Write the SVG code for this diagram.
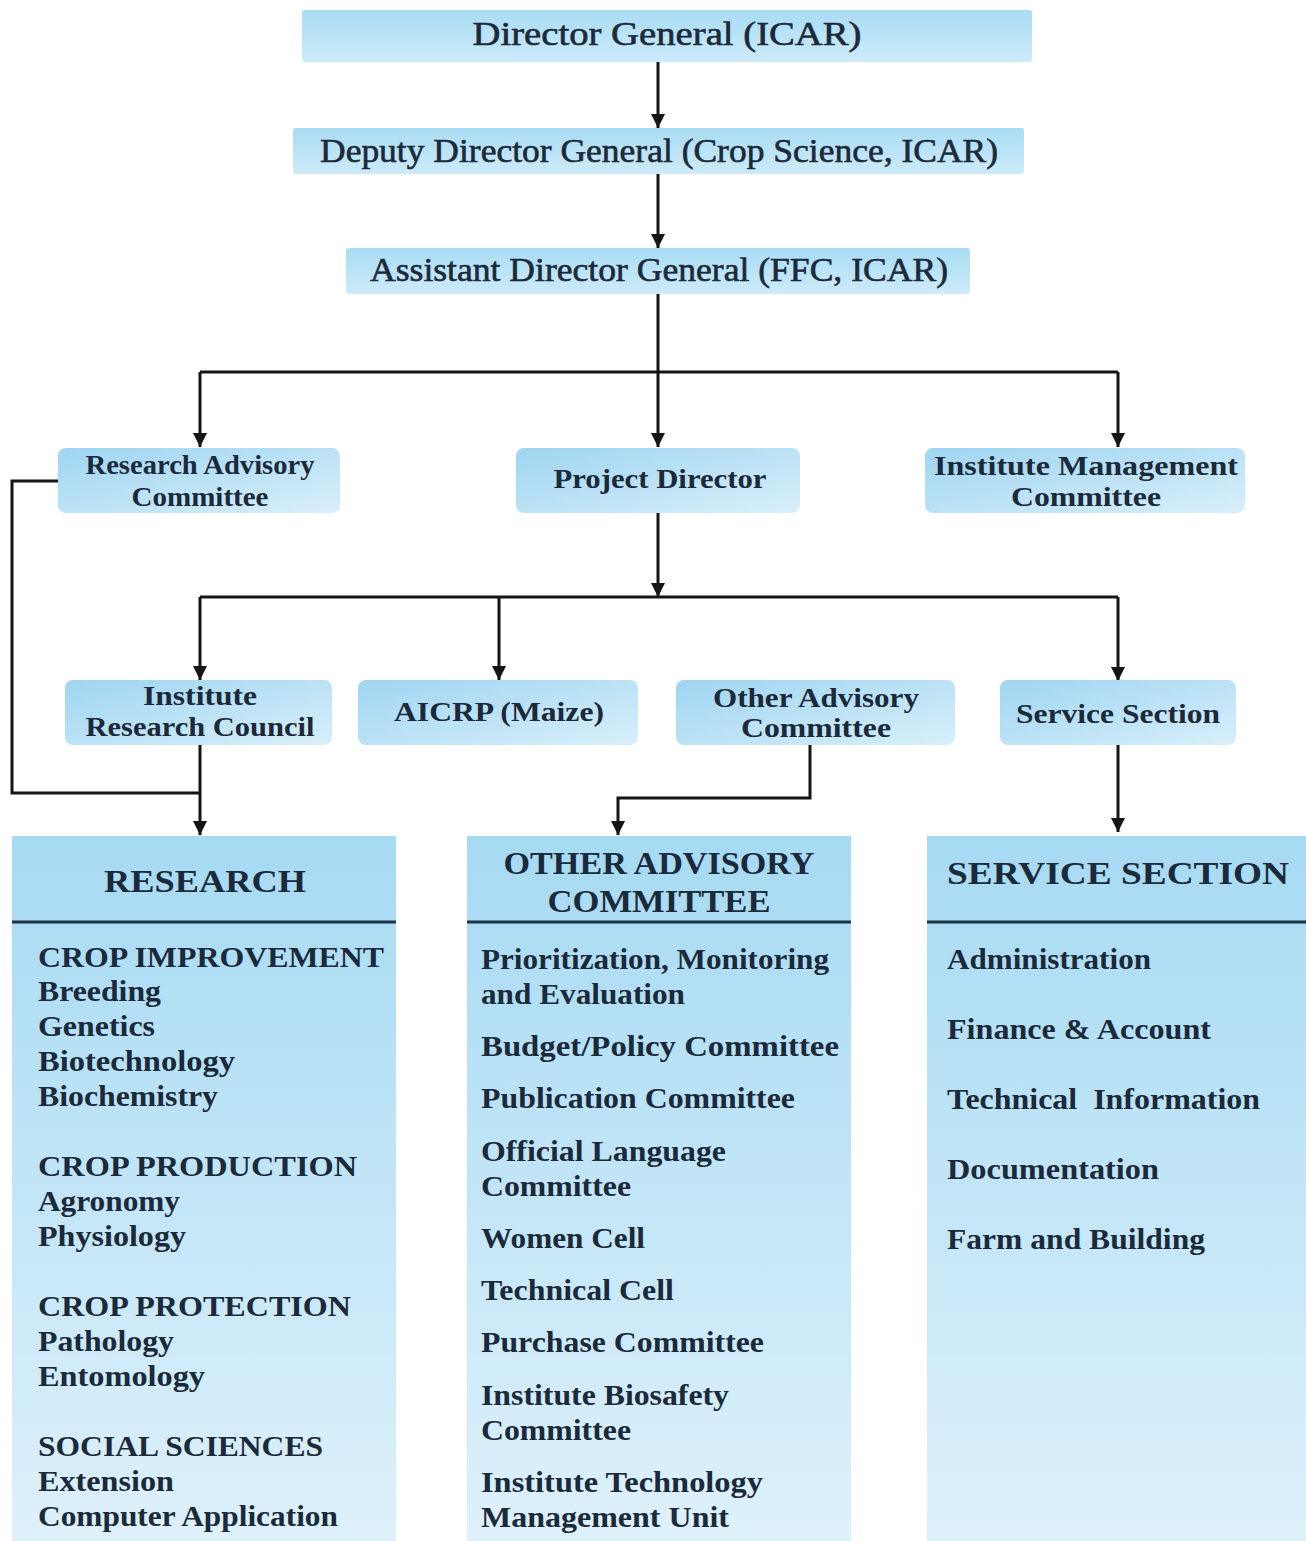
<svg xmlns="http://www.w3.org/2000/svg" width="1306" height="1541" viewBox="0 0 1306 1541">
<defs>
<linearGradient id="gBanner" x1="0" y1="0" x2="0" y2="1">
<stop offset="0" stop-color="#a9dcf4"/>
<stop offset="1" stop-color="#cdebf9"/>
</linearGradient>
<linearGradient id="gBox" x1="0" y1="0" x2="1" y2="1">
<stop offset="0" stop-color="#9fd5f1"/>
<stop offset="1" stop-color="#d8effa"/>
</linearGradient>
<linearGradient id="gPanel" x1="0" y1="0" x2="0" y2="1">
<stop offset="0" stop-color="#a6daf3"/>
<stop offset="1" stop-color="#def1fb"/>
</linearGradient>
<marker id="arr" markerUnits="userSpaceOnUse" markerWidth="14" markerHeight="16" refX="14" refY="7" orient="auto" viewBox="0 0 14 14">
<path d="M0,0 L14,7 L0,14 z" fill="#151515"/>
</marker>
</defs>
<style>
text{font-family:"Liberation Serif","Times New Roman",serif;fill:#1b2a3a;}
.hd{font-size:33px;font-weight:normal;text-anchor:middle;stroke:#1b2a3a;stroke-width:0.6;}
.nd{font-size:27px;font-weight:bold;text-anchor:middle;}
.ph{font-size:32px;font-weight:bold;text-anchor:middle;}
.it{font-size:29px;font-weight:bold;}
.banner{fill:url(#gBanner);}
.box{fill:url(#gBox);}
.panel{fill:url(#gPanel);}
.div{stroke:#1d3344;stroke-width:3;}
.con{fill:none;stroke:#151515;stroke-width:3;}
</style>
<rect width="1306" height="1541" fill="#ffffff"/>

<g id="connectors">
<path class="con" d="M658,62 V128" marker-end="url(#arr)"/>
<path class="con" d="M658,174 V248" marker-end="url(#arr)"/>
<path class="con" d="M658,294 V447" marker-end="url(#arr)"/>
<path class="con" d="M200,372 H1118"/>
<path class="con" d="M200,372 V447" marker-end="url(#arr)"/>
<path class="con" d="M1118,372 V447" marker-end="url(#arr)"/>
<path class="con" d="M58,481 H12 V793 H200"/>
<path class="con" d="M658,513 V597" marker-end="url(#arr)"/>
<path class="con" d="M200,597 H1118"/>
<path class="con" d="M200,597 V680" marker-end="url(#arr)"/>
<path class="con" d="M499,597 V680" marker-end="url(#arr)"/>
<path class="con" d="M1118,597 V681" marker-end="url(#arr)"/>
<path class="con" d="M200,745 V835" marker-end="url(#arr)"/>
<path class="con" d="M810,745 V798 H618 V835" marker-end="url(#arr)"/>
<path class="con" d="M1118,745 V832" marker-end="url(#arr)"/>
</g>

<g id="dg">
<rect class="banner" x="302" y="10" width="730" height="52" rx="3"/>
<text class="hd" x="667" y="45" textLength="389" lengthAdjust="spacingAndGlyphs">Director General (ICAR)</text>
</g>
<g id="ddg">
<rect class="banner" x="293" y="128" width="731" height="46" rx="3"/>
<text class="hd" x="659" y="162" textLength="678" lengthAdjust="spacingAndGlyphs">Deputy Director General (Crop Science, ICAR)</text>
</g>
<g id="adg">
<rect class="banner" x="346" y="248" width="624" height="46" rx="3"/>
<text class="hd" x="659" y="281" textLength="578" lengthAdjust="spacingAndGlyphs">Assistant Director General (FFC, ICAR)</text>
</g>

<g id="rac">
<rect class="box" x="58" y="448" width="282" height="65" rx="8"/>
<text class="nd" x="200" y="474" textLength="229" lengthAdjust="spacingAndGlyphs">Research Advisory</text>
<text class="nd" x="200" y="506" textLength="137" lengthAdjust="spacingAndGlyphs">Committee</text>
</g>
<g id="pd">
<rect class="box" x="516" y="448" width="284" height="65" rx="8"/>
<text class="nd" x="660" y="488" textLength="213" lengthAdjust="spacingAndGlyphs">Project Director</text>
</g>
<g id="imc">
<rect class="box" x="925" y="448" width="320" height="65" rx="8"/>
<text class="nd" x="1086" y="475" textLength="304" lengthAdjust="spacingAndGlyphs">Institute Management</text>
<text class="nd" x="1086" y="506" textLength="150" lengthAdjust="spacingAndGlyphs">Committee</text>
</g>

<g id="irc">
<rect class="box" x="65" y="680" width="267" height="65" rx="8"/>
<text class="nd" x="200" y="705" textLength="114" lengthAdjust="spacingAndGlyphs">Institute</text>
<text class="nd" x="200" y="736" textLength="229" lengthAdjust="spacingAndGlyphs">Research Council</text>
</g>
<g id="aicrp">
<rect class="box" x="358" y="680" width="280" height="65" rx="8"/>
<text class="nd" x="499" y="721" textLength="210" lengthAdjust="spacingAndGlyphs">AICRP (Maize)</text>
</g>
<g id="oac">
<rect class="box" x="676" y="680" width="279" height="65" rx="8"/>
<text class="nd" x="816" y="707" textLength="206" lengthAdjust="spacingAndGlyphs">Other Advisory</text>
<text class="nd" x="816" y="737" textLength="150" lengthAdjust="spacingAndGlyphs">Committee</text>
</g>
<g id="ss">
<rect class="box" x="1000" y="680" width="236" height="65" rx="8"/>
<text class="nd" x="1118" y="723" textLength="204" lengthAdjust="spacingAndGlyphs">Service Section</text>
</g>

<g id="research-panel">
<rect class="panel" x="12" y="836" width="384" height="705"/>
<line class="div" x1="12" y1="922" x2="396" y2="922"/>
<text class="ph" x="205" y="892" textLength="202" lengthAdjust="spacingAndGlyphs">RESEARCH</text>
<text class="it" x="38" y="967" textLength="346" lengthAdjust="spacingAndGlyphs">CROP IMPROVEMENT</text>
<text class="it" x="38" y="1001" textLength="123" lengthAdjust="spacingAndGlyphs">Breeding</text>
<text class="it" x="38" y="1036" textLength="117" lengthAdjust="spacingAndGlyphs">Genetics</text>
<text class="it" x="38" y="1071" textLength="197" lengthAdjust="spacingAndGlyphs">Biotechnology</text>
<text class="it" x="38" y="1106" textLength="180" lengthAdjust="spacingAndGlyphs">Biochemistry</text>
<text class="it" x="38" y="1176" textLength="319" lengthAdjust="spacingAndGlyphs">CROP PRODUCTION</text>
<text class="it" x="38" y="1211" textLength="142" lengthAdjust="spacingAndGlyphs">Agronomy</text>
<text class="it" x="38" y="1246" textLength="148" lengthAdjust="spacingAndGlyphs">Physiology</text>
<text class="it" x="38" y="1316" textLength="313" lengthAdjust="spacingAndGlyphs">CROP PROTECTION</text>
<text class="it" x="38" y="1351" textLength="136" lengthAdjust="spacingAndGlyphs">Pathology</text>
<text class="it" x="38" y="1386" textLength="167" lengthAdjust="spacingAndGlyphs">Entomology</text>
<text class="it" x="38" y="1456" textLength="285" lengthAdjust="spacingAndGlyphs">SOCIAL SCIENCES</text>
<text class="it" x="38" y="1491" textLength="136" lengthAdjust="spacingAndGlyphs">Extension</text>
<text class="it" x="38" y="1526" textLength="300" lengthAdjust="spacingAndGlyphs">Computer Application</text>
</g>

<g id="oac-panel">
<rect class="panel" x="467" y="836" width="384" height="705"/>
<line class="div" x1="467" y1="922" x2="851" y2="922"/>
<text class="ph" x="659" y="874" textLength="311" lengthAdjust="spacingAndGlyphs">OTHER ADVISORY</text>
<text class="ph" x="659" y="912" textLength="223" lengthAdjust="spacingAndGlyphs">COMMITTEE</text>
<text class="it" x="481" y="969" textLength="348" lengthAdjust="spacingAndGlyphs">Prioritization, Monitoring</text>
<text class="it" x="481" y="1004" textLength="204" lengthAdjust="spacingAndGlyphs">and Evaluation</text>
<text class="it" x="481" y="1056" textLength="358" lengthAdjust="spacingAndGlyphs">Budget/Policy Committee</text>
<text class="it" x="481" y="1108" textLength="314" lengthAdjust="spacingAndGlyphs">Publication Committee</text>
<text class="it" x="481" y="1161" textLength="245" lengthAdjust="spacingAndGlyphs">Official Language</text>
<text class="it" x="481" y="1196" textLength="150" lengthAdjust="spacingAndGlyphs">Committee</text>
<text class="it" x="481" y="1248" textLength="164" lengthAdjust="spacingAndGlyphs">Women Cell</text>
<text class="it" x="481" y="1300" textLength="193" lengthAdjust="spacingAndGlyphs">Technical Cell</text>
<text class="it" x="481" y="1352" textLength="283" lengthAdjust="spacingAndGlyphs">Purchase Committee</text>
<text class="it" x="481" y="1405" textLength="248" lengthAdjust="spacingAndGlyphs">Institute Biosafety</text>
<text class="it" x="481" y="1440" textLength="150" lengthAdjust="spacingAndGlyphs">Committee</text>
<text class="it" x="481" y="1492" textLength="282" lengthAdjust="spacingAndGlyphs">Institute Technology</text>
<text class="it" x="481" y="1527" textLength="248" lengthAdjust="spacingAndGlyphs">Management Unit</text>
</g>

<g id="service-panel">
<rect class="panel" x="927" y="836" width="379" height="705"/>
<line class="div" x1="927" y1="922" x2="1306" y2="922"/>
<text class="ph" x="1118" y="884" textLength="342" lengthAdjust="spacingAndGlyphs">SERVICE SECTION</text>
<text class="it" x="947" y="969" textLength="204" lengthAdjust="spacingAndGlyphs">Administration</text>
<text class="it" x="947" y="1039" textLength="264" lengthAdjust="spacingAndGlyphs">Finance &amp; Account</text>
<text class="it" x="947" y="1109" textLength="313" lengthAdjust="spacingAndGlyphs" xml:space="preserve">Technical  Information</text>
<text class="it" x="947" y="1179" textLength="212" lengthAdjust="spacingAndGlyphs">Documentation</text>
<text class="it" x="947" y="1249" textLength="258" lengthAdjust="spacingAndGlyphs">Farm and Building</text>
</g>
</svg>
